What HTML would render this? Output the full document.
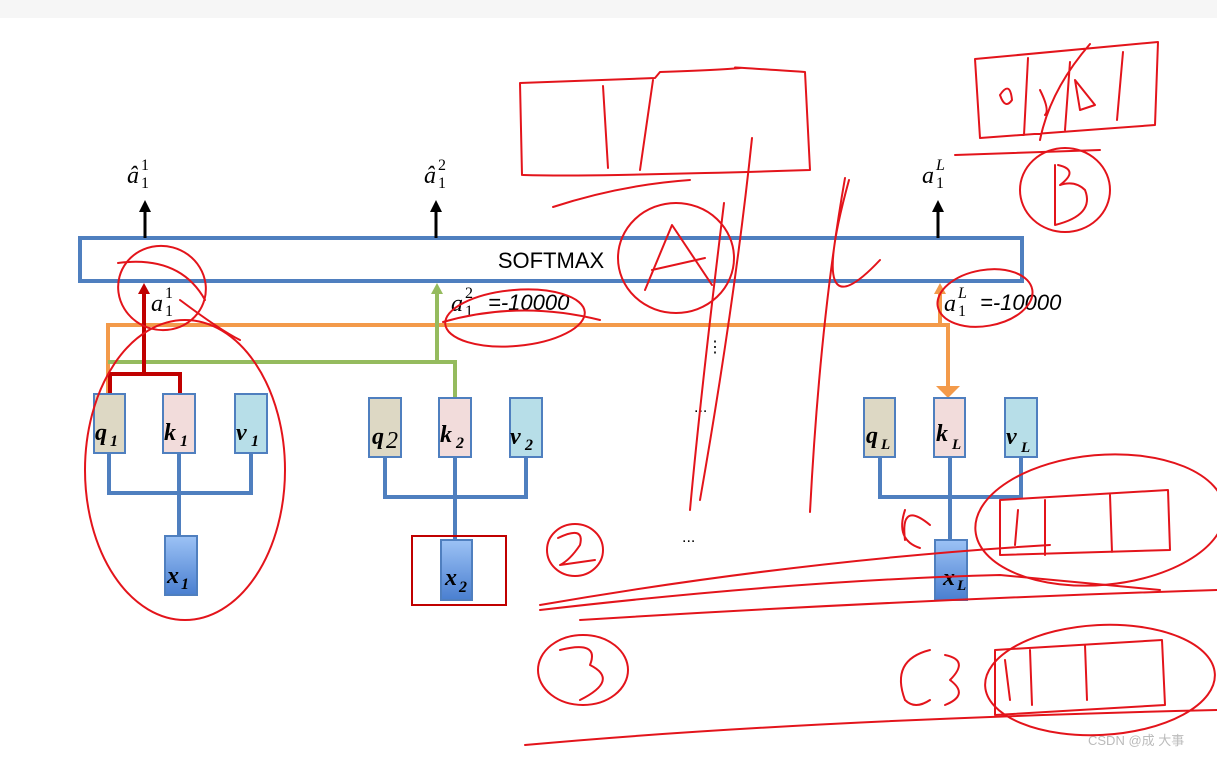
<!DOCTYPE html>
<html><head><meta charset="utf-8"><style>
body{margin:0;background:#fff;}
svg{display:block;}
.m{font-family:"Liberation Serif",serif;font-style:italic;}
.b{font-family:"Liberation Serif",serif;font-weight:bold;font-style:italic;font-size:24px;}
.r{fill:none;stroke:#e3141b;stroke-width:2;stroke-linecap:round;stroke-linejoin:round;}
</style></head><body>
<svg width="1217" height="758" viewBox="0 0 1217 758" xmlns="http://www.w3.org/2000/svg">
<rect x="0" y="0" width="1217" height="18" fill="#f6f6f6"/>
<!-- softmax -->
<rect x="80" y="238" width="942" height="43" fill="#fff" stroke="#4f7fbf" stroke-width="4"/>
<text x="551" y="268" text-anchor="middle" font-family="Liberation Sans,sans-serif" font-size="22">SOFTMAX</text>
<g stroke="#000" stroke-width="3"><line x1="145" y1="238" x2="145" y2="210"/><line x1="436" y1="238" x2="436" y2="210"/><line x1="938" y1="238" x2="938" y2="210"/></g>
<g fill="#000"><path d="M139,212 L145,200 L151,212z"/><path d="M430,212 L436,200 L442,212z"/><path d="M932,212 L938,200 L944,212z"/></g>
<g class="m" font-size="24">
<text x="127" y="183">â</text><text x="141" y="170" font-size="16" font-style="normal">1</text><text x="141" y="188" font-size="16" font-style="normal">1</text>
<text x="424" y="183">â</text><text x="438" y="170" font-size="16" font-style="normal">2</text><text x="438" y="188" font-size="16" font-style="normal">1</text>
<text x="922" y="183">a</text><text x="936" y="170" font-size="16">L</text><text x="936" y="188" font-size="16" font-style="normal">1</text>
<text x="151" y="311">a</text><text x="165" y="298" font-size="16" font-style="normal">1</text><text x="165" y="316" font-size="16" font-style="normal">1</text>
<text x="451" y="311">a</text><text x="465" y="298" font-size="16" font-style="normal">2</text><text x="465" y="316" font-size="16" font-style="normal">1</text>
<text x="944" y="311">a</text><text x="958" y="298" font-size="16">L</text><text x="958" y="316" font-size="16" font-style="normal">1</text>
</g>
<g font-family="Liberation Sans,sans-serif" font-style="italic" font-size="22">
<text x="488" y="310">=-10000</text><text x="980" y="310">=-10000</text></g>
<g stroke="#4f7fbf" stroke-width="4" fill="none">
<path d="M109,453 V493 H251 V453 M179,453 V536"/>
<path d="M385,457 V497 H526 V457 M455,457 V540"/>
<path d="M880,457 V497 H1021 V457 M950,457 V540"/>
</g>
<g stroke="#f39a4a" stroke-width="4" fill="none">
<path d="M108,394 V325 H948 V388"/><path d="M940,325 V292"/></g>
<path d="M948,398 L960,386 L936,386z" fill="#f39a4a"/>
<path d="M934,294 L940,283 L946,294z" fill="#f39a4a"/>
<g stroke="#95bb5e" stroke-width="4" fill="none"><path d="M108,362 H455 V398"/><path d="M437,362 V292"/></g>
<path d="M431,294 L437,283 L443,294z" fill="#95bb5e"/>
<g stroke="#c00000" stroke-width="4" fill="none"><path d="M110,394 V374 H180 V394"/><path d="M144,374 V292"/></g>
<path d="M138,294 L144,283 L150,294z" fill="#c00000"/>
<g stroke="#4f7fbf" stroke-width="2">
<rect x="94" y="394" width="31" height="59" fill="#ddd8c4"/><rect x="163" y="394" width="32" height="59" fill="#f2dcdb"/><rect x="235" y="394" width="32" height="59" fill="#b7dee8"/>
<rect x="369" y="398" width="32" height="59" fill="#ddd8c4"/><rect x="439" y="398" width="32" height="59" fill="#f2dcdb"/><rect x="510" y="398" width="32" height="59" fill="#b7dee8"/>
<rect x="864" y="398" width="31" height="59" fill="#ddd8c4"/><rect x="934" y="398" width="31" height="59" fill="#f2dcdb"/><rect x="1005" y="398" width="32" height="59" fill="#b7dee8"/>
</g>
<defs><linearGradient id="g" x1="0" y1="0" x2="0" y2="1"><stop offset="0" stop-color="#9cc2f5"/><stop offset="1" stop-color="#4a7fd0"/></linearGradient></defs>
<g stroke="#4f7fbf" stroke-width="2" fill="url(#g)">
<rect x="165" y="536" width="32" height="59"/><rect x="441" y="540" width="31" height="60"/><rect x="935" y="540" width="32" height="60"/></g>
<rect x="412" y="536" width="94" height="69" fill="none" stroke="#c00000" stroke-width="2"/>
<g class="b">
<text x="95" y="440">q</text><text x="110" y="446" font-size="16">1</text>
<text x="164" y="440">k</text><text x="180" y="446" font-size="16">1</text>
<text x="236" y="440">v</text><text x="251" y="446" font-size="16">1</text>
<text x="372" y="444">q</text><text x="386" y="448" font-style="italic" font-weight="normal">2</text>
<text x="440" y="442">k</text><text x="456" y="448" font-size="16">2</text>
<text x="510" y="444">v</text><text x="525" y="450" font-size="16">2</text>
<text x="866" y="443">q</text><text x="881" y="449" font-size="15">L</text>
<text x="936" y="441">k</text><text x="952" y="449" font-size="15">L</text>
<text x="1006" y="444">v</text><text x="1021" y="452" font-size="15">L</text>
<text x="167" y="583">x</text><text x="181" y="589" font-size="16">1</text>
<text x="445" y="585">x</text><text x="459" y="592" font-size="16">2</text>
<text x="943" y="585">x</text><text x="957" y="590" font-size="15">L</text>
</g>
<g font-family="Liberation Sans,sans-serif" font-size="16"><text x="707" y="352">⋮</text><text x="694" y="412">...</text><text x="682" y="542">...</text></g>
<text x="1088" y="745" font-family="Liberation Sans,'Noto Sans CJK SC',sans-serif" font-size="13" fill="#bbb">CSDN @成 大事</text>
<g class="r">
<path d="M520,83 L522,175 M520,83 Q600,80 655,78 L660,72 Q720,70 740,68 Q716,66 805,72 L810,170 Q750,172 705,173 L618,175 Q560,176 523,175 M603,86 L608,168 M653,80 L640,170"/>
<path d="M553,207 Q620,185 690,180"/>
<ellipse cx="676" cy="258" rx="58" ry="55"/>
<path d="M645,290 L672,225 L712,285 M652,270 L705,258"/>
<path d="M752,138 Q735,300 700,500 M724,203 Q700,400 690,510"/>
<path d="M845,178 Q820,320 810,512 M849,180 Q805,340 880,260"/>
<path d="M975,59 L1158,42 L1155,125 L980,138 Z M1090,44 Q1050,90 1040,140 M1070,62 L1065,130 M1123,52 L1117,120 M1028,58 L1024,135"/>
<path d="M1000,95 Q1010,80 1012,100 Q1005,110 1000,95 M1040,90 Q1050,110 1045,115 M1075,80 L1095,105 L1080,110 Z"/>
<path d="M955,155 L1100,150"/>
<ellipse cx="1065" cy="190" rx="45" ry="42"/>
<path d="M1055,165 L1055,225 Q1095,215 1085,190 Q1075,180 1060,185 Q1080,170 1058,165"/>
<ellipse cx="162" cy="288" rx="44" ry="42" transform="rotate(15 162 288)"/>
<ellipse cx="185" cy="470" rx="100" ry="150"/>
<path d="M118,263 Q180,255 205,300 M180,300 Q220,330 240,340"/>
<ellipse cx="515" cy="318" rx="70" ry="28" transform="rotate(-5 515 318)"/>
<path d="M443,322 Q520,300 600,320"/>
<ellipse cx="985" cy="298" rx="48" ry="28" transform="rotate(-10 985 298)"/>
<ellipse cx="575" cy="550" rx="28" ry="26"/>
<path d="M558,538 Q585,525 580,545 Q570,560 560,565 L595,560"/>
<path d="M540,605 Q800,560 1050,545 M540,610 Q800,580 1000,575 L1160,590 M580,620 Q900,600 1217,590"/>
<path d="M905,510 Q895,540 920,548 M930,525 Q900,500 905,540"/>
<ellipse cx="1100" cy="520" rx="125" ry="65" transform="rotate(-5 1100 520)"/>
<path d="M1000,500 L1000,555 L1170,550 L1168,490 Z M1045,500 L1045,555 M1110,495 L1112,552 M1018,510 L1015,545"/>
<ellipse cx="583" cy="670" rx="45" ry="35"/>
<path d="M560,650 Q600,640 590,665 Q620,680 580,700"/>
<path d="M525,745 Q800,720 1217,710"/>
<path d="M930,650 Q890,660 905,700 Q915,710 930,700 M945,655 Q970,660 950,680 Q970,695 945,705"/>
<ellipse cx="1100" cy="680" rx="115" ry="55" transform="rotate(-3 1100 680)"/>
<path d="M995,650 L995,715 L1165,705 L1162,640 Z M1030,650 L1032,705 M1085,645 L1087,700 M1005,660 L1010,700"/>
</g>
</svg>
</body></html>
